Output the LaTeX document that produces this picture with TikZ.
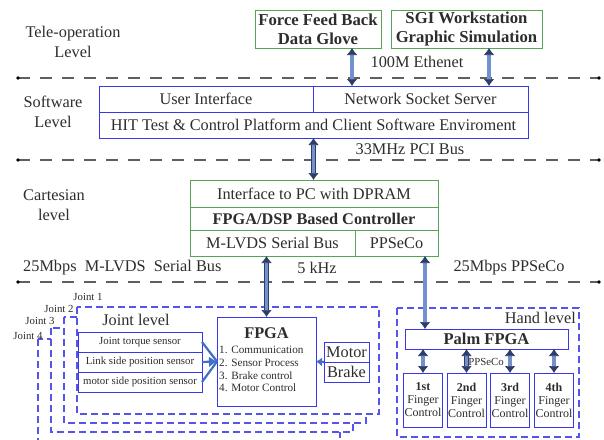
\documentclass[tikz,border=0pt]{standalone}
\usepackage{fontspec}
\setmainfont{Liberation Serif}
\usetikzlibrary{arrows.meta, positioning, calc}
\definecolor{boxblue}{RGB}{55,55,235}
\definecolor{jointblue}{RGB}{85,85,235}
\definecolor{boxgreen}{RGB}{85,165,85}
\definecolor{busfill}{RGB}{115,145,205}
\definecolor{busline}{RGB}{45,60,105}
\definecolor{sensblue}{RGB}{65,110,200}
\definecolor{sepgray}{RGB}{95,95,95}
\definecolor{gray40}{RGB}{45,45,45}

\tikzset{
  txt/.style={text=gray40, font=\fontsize{16.3}{19.5}\selectfont, align=center, inner sep=0pt},
  bluebox/.style={draw=boxblue, line width=1pt, inner sep=0pt, outer sep=0pt,
                  text=gray40, font=\fontsize{16.3}{19.5}\selectfont},
  greenbox/.style={bluebox, draw=boxgreen},
  busarrow/.style={draw=busline, double=busfill, double distance=3.2pt, line width=.7pt,
                   {Latex[length=7pt,width=10.5pt]}-{Latex[length=7pt,width=10.5pt]}},
  sepline/.style={draw=sepgray, line width=1.4pt, dash pattern=on 12pt off 10pt},
  jointbox/.style={draw=jointblue, line width=1.3pt, dash pattern=on 7pt off 4pt, fill=white},
  sensline/.style={draw=sensblue, line width=2.2pt},
  small/.style={text=gray40, font=\fontsize{10.8}{12}\selectfont, inner sep=0pt},
}

\begin{document}
\begin{tikzpicture}[x=1pt, y=-1pt]
  \useasboundingbox (0,0) rectangle (604,439);

  % level separators
  \foreach \yy in {78,160,282} {
    \draw[sepline] (18,\yy) -- (599,\yy);
    \fill[black] (18,\yy) circle (1.8pt) (599,\yy) circle (1.8pt);
  }
  \node[txt] (tele) at (73,42) {Tele-operation\\Level};
  \node[txt] (soft) at (53,112) {Software\\Level};
  \node[txt] (cart) at (54,205) {Cartesian\\level};

  % tele-operation level
  \node[greenbox, font=\fontsize{16.7}{19}\selectfont\bfseries, align=center,
        minimum width=126pt, minimum height=38pt] (glove) at (318,29)
        {Force Feed Back\\Data Glove};
  \node[greenbox, font=\fontsize{16.7}{19}\selectfont\bfseries, align=center,
        minimum width=151pt, minimum height=38pt] (sgi) at (466.5,29)
        {SGI Workstation\\Graphic Simulation};

  % software level
  \node[bluebox, minimum width=214pt, minimum height=26pt] (ui) at (206,99) {User Interface};
  \node[bluebox, minimum width=215pt, minimum height=26pt] (nss) at (420.5,99) {Network Socket Server};
  \node[bluebox, minimum width=429pt, minimum height=26pt] (hit) at (313.5,125)
        {HIT Test \& Control Platform and Client Software Enviroment};

  % cartesian level
  \node[greenbox, minimum width=248pt, minimum height=27pt] (dpram) at (314,193.5) {Interface to PC with DPRAM};
  \node[greenbox, font=\fontsize{16.3}{19}\selectfont\bfseries, minimum width=248pt,
        minimum height=23pt, below=0pt of dpram] (ctrl) {FPGA/DSP Based Controller};
  \node[greenbox, minimum width=165pt, minimum height=26pt] (mlvds) at (272.5,243) {M-LVDS Serial Bus};
  \node[greenbox, minimum width=83pt, minimum height=26pt, right=0pt of mlvds] (pps) {PPSeCo};

  % bus labels
  \node[txt] (eth) at (417,62) {100M Ethenet};
  \node[txt] (pci) at (410,149) {33MHz PCI Bus};
  \node[txt, anchor=west] (lvdsbus) at (23,268) {25Mbps\ \ M-LVDS\ \ Serial Bus};
  \node[txt] (khz) at (317,268) {5 kHz};
  \node[txt] (ppsbus) at (509,268) {25Mbps PPSeCo};

  % joint level (stacked joints)
  \foreach \j/\xl/\yt/\yb/\lx/\ly in {4/38/339/441/28/336, 3/51/328/432/40/321,
                                      2/64/317/423/59/309, 1/77/307/414/88/297} {
    \draw[jointbox] (\xl,\yt) rectangle ({\xl+302},\yb);
    \node[small] (jl\j) at (\lx,\ly) {Joint \j};
  }
  \node[txt, font=\fontsize{16.3}{18}\selectfont] (jlevel) at (136,320) {Joint level};

  \node[bluebox, font=\fontsize{10.8}{12}\selectfont, minimum width=124pt,
        minimum height=20pt] (torque) at (140,342) {Joint torque sensor};
  \node[bluebox, font=\fontsize{10.8}{12}\selectfont, minimum width=124pt,
        minimum height=20pt, below=0pt of torque] (linkpos) {Link side position sensor};
  \node[bluebox, font=\fontsize{10.8}{12}\selectfont, minimum width=124pt,
        minimum height=20pt, below=0pt of linkpos] (motorpos) {motor side position sensor};

  \node[bluebox, minimum width=99pt, minimum height=89pt] (fpga) at (266.5,361.5) {};
  \node[txt, font=\fontsize{16.3}{18}\selectfont\bfseries] (fpgat) at ([yshift=-16pt]fpga.north) {FPGA};
  \node[small, font=\fontsize{11.2}{12.7}\selectfont, align=left, anchor=north west]
        (fpgal) at (219,346) {1. Communication\\2. Sensor Process\\3. Brake control\\4. Motor Control};

  \node[bluebox, font=\fontsize{16.3}{18}\selectfont, minimum width=45pt,
        minimum height=20pt] (motor) at (346.5,352) {Motor};
  \node[bluebox, font=\fontsize{16.3}{18}\selectfont, minimum width=45pt,
        minimum height=20pt, below=0pt of motor] (brake) {Brake};

  \draw[sensline] (torque.east) -- (fpga.west);
  \draw[sensline] (motorpos.east) -- (fpga.west);
  \draw[sensline, -{Latex[length=8pt,width=11pt]}] (linkpos.east) -- (fpga.west);
  \draw[sensline, -{Latex[length=6pt,width=9pt]}] (motor.south west) -- (fpga.east);

  % hand level
  \draw[jointbox] (397,308) rectangle (579,437);
  \node[txt, font=\fontsize{16.3}{18}\selectfont, anchor=east] (hlevel) at (576,318) {Hand level};
  \node[bluebox, font=\fontsize{16.5}{18}\selectfont\bfseries, minimum width=163pt,
        minimum height=20pt] (palm) at (486.5,339) {Palm FPGA};
  \foreach \f/\fx/\nm in {f1/423/1st, f2/466.5/2nd, f3/510/3rd, f4/554/4th}
    \node[bluebox, font=\fontsize{12}{13}\selectfont, align=center, minimum width=39pt,
          minimum height=54pt] (\f) at (\fx,400) {\textbf{\nm}\\Finger\\Control};
  \node[small] (ppsf) at (486,362) {PPSeCo};

  % buses
  \coordinate (gl) at ([xshift=34pt]glove.south);
  \coordinate (sg) at ([xshift=22.5pt]sgi.south);
  \coordinate (pp) at ([xshift=28.5pt]pps.south);
  \draw[busarrow] (gl) -- (gl |- nss.north);
  \draw[busarrow] (sg) -- (sg |- nss.north);
  \draw[busarrow] (hit.south) -- (hit.south |- dpram.north);
  \draw[busarrow] (fpga.north |- mlvds.south) -- (fpga.north);
  \draw[busarrow] (pp) -- (pp |- palm.north);
  \foreach \f in {f1,f2,f3,f4}
    \draw[busarrow] (\f.north |- palm.south) -- (\f.north);
\end{tikzpicture}
\end{document}
